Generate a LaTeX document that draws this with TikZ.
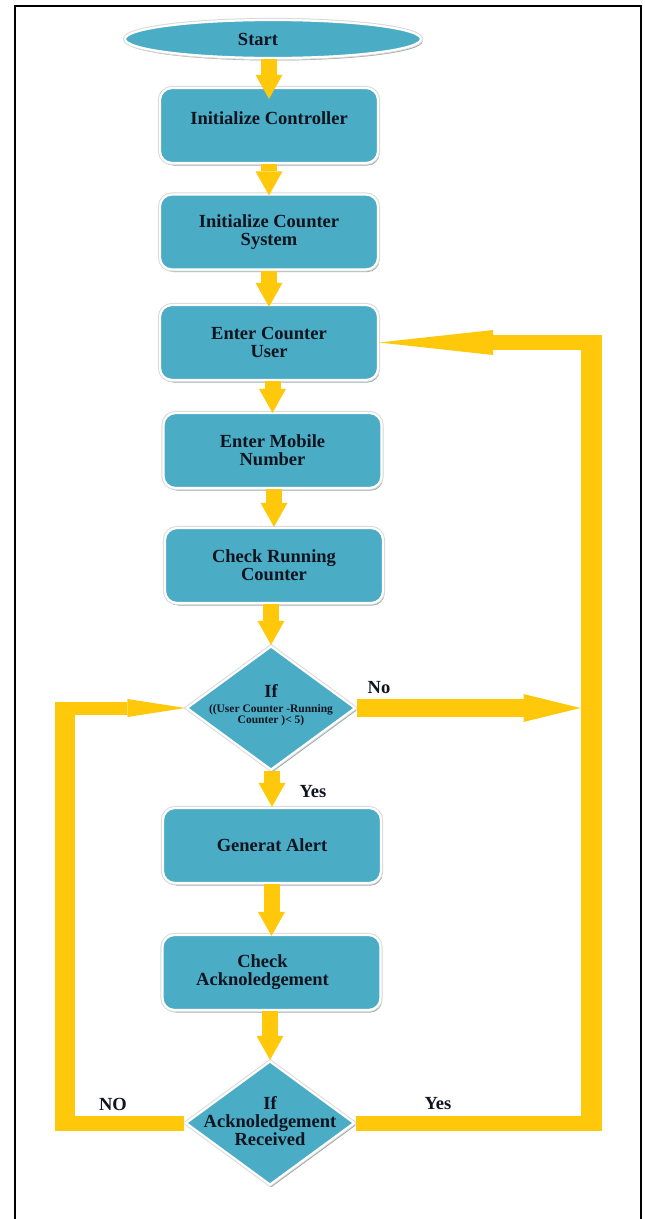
\documentclass[tikz,border=0pt]{standalone}
\usepackage{fontspec}
\setmainfont{Liberation Serif}
\usetikzlibrary{shapes.geometric,arrows.meta,shadows,calc}
\definecolor{fillblue}{RGB}{75,172,198}
\definecolor{yel}{RGB}{255,200,10}
\definecolor{shd}{RGB}{150,165,170}
\definecolor{txt}{RGB}{15,20,30}
\begin{document}
\begin{tikzpicture}[x=1pt,y=-1pt,
  deco/.style={fill=fillblue, draw=white, line width=2.2pt,
    drop shadow={shadow xshift=1.5pt, shadow yshift=-2.5pt, fill=shd, opacity=1},
    preaction={draw=black!15, line width=4.2pt}},
  btext/.style={text=txt, align=center, font=\bfseries\fontsize{18.5}{18}\selectfont},
  boxst/.style={deco, btext, rounded corners=12pt, minimum width=218pt, minimum height=75pt, inner sep=0pt},
  ellst/.style={deco, btext, ellipse, minimum width=296pt, minimum height=38pt, inner sep=0pt},
  diast/.style={deco, diamond, minimum width=169pt, minimum height=124pt, inner sep=0pt},
  lbl/.style={text=txt, font=\bfseries\fontsize{18.5}{18}\selectfont},
  down/.style={draw=yel, line width=16pt, -{Triangle[width=27pt,length=24pt,line width=0pt]}},
  bar/.style={draw=yel}
]
\useasboundingbox (0,0) rectangle (645,1219);
\draw[line width=2.5pt] (15,1225) -- (15,6) -- (641,6) -- (641,1225);

% nodes
\node[ellst, label={[btext,xshift=-15pt]center:Start}] (start) at (273,39) {};
\node[boxst, label={[btext,yshift=7.5pt]center:Initialize Controller}] (b1) at (269,125.5) {};
\node[boxst] (b2) at (269,232) {Initialize Counter\\System};
\node[boxst] (b3) at (269,342.5) {Enter Counter\\User};
\node[boxst] (b4) at (272.5,450.5) {Enter Mobile\\Number};
\node[boxst] (b5) at (274,565.5) {Check Running\\Counter};
\node[diast, label={[btext,yshift=2.5pt]center:If\\[-3pt]\fontsize{11.5}{11.5}\selectfont ((User Counter -Running\\[-7pt]\fontsize{11.5}{11.5}\selectfont Counter )< 5)}] (d1) at (271,708) {};
\node[boxst] (b6) at (272,845.5) {Generat Alert};
\node[boxst, label={[btext,xshift=-9pt]center:Check\\Acknoledgement}] (b7) at (271.5,972.5) {};
\node[diast, label={[btext,yshift=1.5pt]center:If\\Acknoledgement\\Received}] (d2) at (270,1123) {};

% down arrows
\draw[down] (b1.north |- start.south) -- ([yshift=-12pt]b1.north);
\draw[down] (b2.north |- b1.south) -- ([yshift=-2pt]b2.north);
\draw[down] (b3.north |- b2.south) -- ([yshift=-3pt]b3.north);
\draw[down] (b4.north |- b3.south) -- ([yshift=-1pt]b4.north);
\draw[down] (b5.north |- b4.south) -- (b5.north);
\draw[down] (d1.north |- b5.south) -- (d1.north);
\draw[down] (b6.north |- d1.south) -- (b6.north);
\draw[down] (b7.north |- b6.south) -- ([yshift=-2pt]b7.north);
\draw[down] (d2.north |- b7.south) -- (d2.north);

% loops
\coordinate (rx) at (591,0);
\coordinate (lx) at (65,0);
\draw[bar, line width=15pt] (d2.east) -- (rx |- d2.east);
\draw[bar, line width=21pt] ($(rx |- d2.east)+(0,7.5)$) -- ($(rx |- b3.east)+(0,-7.5)$);
\draw[bar, line width=15pt, -{Triangle[width=25pt,length=114pt,line width=0pt]}] (rx |- b3.east) -- (b3.east);
\draw[bar, line width=18pt, -{Triangle[width=28pt,length=57pt,line width=0pt]}] (d1.east) -- ($(rx |- d1.east)+(-10.5,0)$);
\draw[bar, line width=15pt] (d2.west) -- (lx |- d2.west);
\draw[bar, line width=20pt] ($(lx |- d2.west)+(0,7.5)$) -- ($(lx |- d1.west)+(0,-6.5)$);
\draw[bar, line width=13pt, -{Triangle[width=18pt,length=58pt,line width=0pt]}] (lx |- d1.west) -- (d1.west);

% labels
\node[lbl] (lno1) at (379,688) {No};
\node[lbl] (lyes1) at (313,792) {Yes};
\node[lbl] (lno2) at (113,1104) {NO};
\node[lbl] (lyes2) at (438,1104) {Yes};
\end{tikzpicture}
\end{document}
